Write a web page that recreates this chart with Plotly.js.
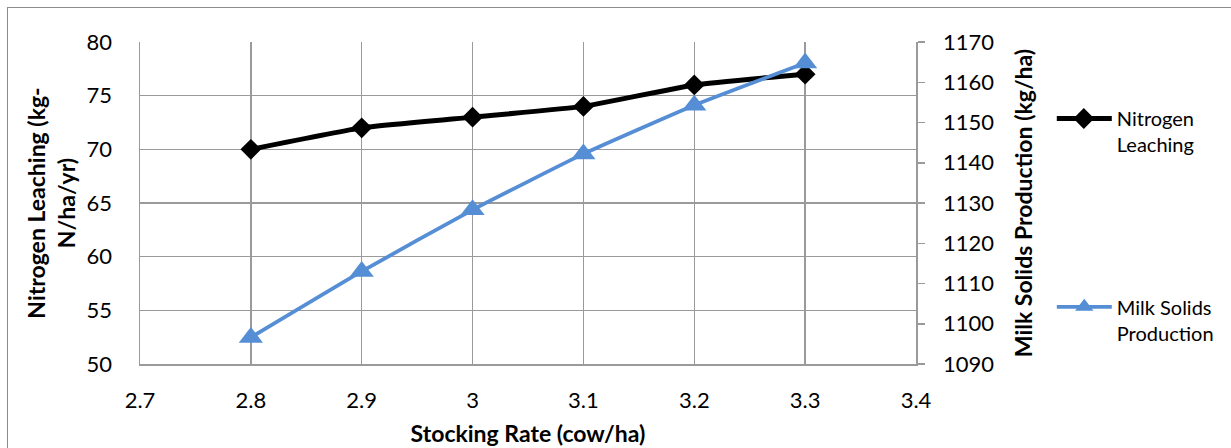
<!DOCTYPE html>
<html>
<head>
<meta charset="utf-8">
<script src="https://cdn.plot.ly/plotly-3.0.1.min.js"></script>
<style>
html,body{margin:0;padding:0;background:#fff;}
#frame{position:absolute;left:7px;top:7px;width:1230px;height:450px;border-left:1px solid #8c8c8c;border-top:1px solid #8c8c8c;box-sizing:border-box;}
#chart{position:absolute;left:0;top:0;width:1231px;height:448px;}
</style>
</head>
<body>
<div id="frame"></div>
<div id="chart"></div>
<script>
const stockingRate = [2.8, 2.9, 3.0, 3.1, 3.2, 3.3];
const nitrogenLeaching = [70, 72, 73, 74, 76, 77];
const milkSolids = [1096.6, 1113, 1128.3, 1142.2, 1154.3, 1164.8];
const seriesNames = ["Nitrogen<br>Leaching", "Milk Solids<br>Production"];
const xTitle = "Stocking Rate (cow/ha)";
const yTitle = "Nitrogen Leaching (kg-<br>N/ha/yr)";
const y2Title = "Milk Solids Production (kg/ha)";

const FONT = "Lato, 'Open Sans', sans-serif";
const grid = "#9a9a9a";

const traces = [
  {
    x: stockingRate, y: nitrogenLeaching, name: seriesNames[0],
    type: "scatter", mode: "lines+markers",
    line: {color: "#000000", width: 5, shape: "spline", smoothing: 0.4},
    marker: {symbol: "diamond", size: 16, color: "#000000"},
    yaxis: "y", legend: "legend"
  },
  {
    x: stockingRate, y: milkSolids, name: seriesNames[1],
    type: "scatter", mode: "lines+markers",
    line: {color: "#558ED5", width: 3.8, shape: "spline", smoothing: 0.4},
    marker: {symbol: "triangle-up", size: 21, color: "#558ED5"},
    yaxis: "y2", legend: "legend2"
  }
];

const layout = {
  width: 1231, height: 448,
  margin: {l: 140, r: 313, t: 42, b: 84},
  paper_bgcolor: "rgba(0,0,0,0)", plot_bgcolor: "#fff",
  font: {family: FONT, color: "#000", size: 22},
  showlegend: true,
  xaxis: {
    range: [2.7, 3.4], dtick: 0.1, tick0: 2.7,
    showgrid: true, gridcolor: grid, gridwidth: 1.5,
    showline: true, linecolor: grid, linewidth: 1.5, mirror: false,
    zeroline: false, ticks: "", ticklabelstandoff: 16,
    tickfont: {size: 22, family: FONT},
    title: {text: "<b>" + xTitle + "</b>", font: {size: 23, family: FONT}, standoff: 14}
  },
  yaxis: {
    range: [50, 80], dtick: 5,
    showgrid: true, gridcolor: grid, gridwidth: 1.5,
    showline: true, linecolor: grid, linewidth: 1.5,
    zeroline: false, ticks: "", ticklabelstandoff: 22,
    tickfont: {size: 22, family: FONT},
    title: {text: "<b>" + yTitle + "</b>", font: {size: 23, family: FONT}, standoff: 4}
  },
  yaxis2: {
    range: [1090, 1170], dtick: 10, overlaying: "y", side: "right",
    showgrid: false, showline: true, linecolor: grid, linewidth: 1.5,
    zeroline: false, ticks: "outside", ticklen: 7, tickcolor: grid, tickwidth: 1.5,
    ticklabelstandoff: 14,
    tickfont: {size: 22, family: FONT},
    title: {text: "<b>" + y2Title + "</b>", font: {size: 23, family: FONT}, standoff: 22}
  },
  legend: {
    x: 1.175, xanchor: "left", y: 0.823, yanchor: "top", valign: "top",
    font: {size: 20, family: FONT}, bgcolor: "rgba(0,0,0,0)", itemwidth: 55
  },
  legend2: {
    x: 1.175, xanchor: "left", y: 0.238, yanchor: "top", valign: "top",
    font: {size: 20, family: FONT}, bgcolor: "rgba(0,0,0,0)", itemwidth: 55
  }
};

Plotly.newPlot("chart", traces, layout, {displayModeBar: false, staticPlot: true}).then(function (gd) {
  // widen legend line samples to match the reference
  gd.querySelectorAll(".legend .traces").forEach(function (tr) {
    tr.querySelectorAll(".legendlines path").forEach(function (p) {
      p.setAttribute("d", "M5,0h55");
    });
    tr.querySelectorAll(".legendpoints path.scatterpts").forEach(function (p) {
      p.setAttribute("transform", "translate(32,0)");
    });
  });
});
</script>
</body>
</html>
